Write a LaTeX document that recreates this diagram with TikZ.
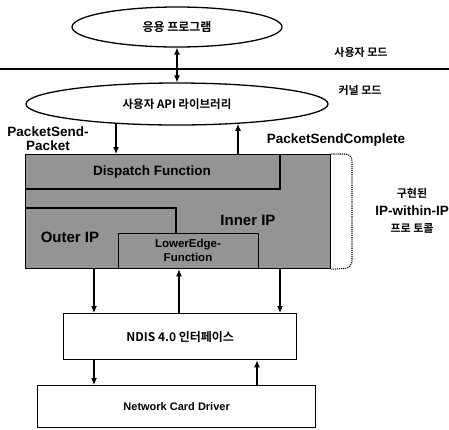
\documentclass[tikz,border=0pt]{standalone}
\usepackage{fontspec}
\setmainfont{Liberation Sans}
\newfontfamily\kr{Noto Sans CJK KR Bold}
\usetikzlibrary{shapes.geometric,arrows.meta}
\tikzset{
  ell/.style={draw, ellipse, line width=1.3pt, inner sep=0pt},
  boxn/.style={draw, rectangle, line width=1.3pt, inner sep=0pt},
  arr/.style={line width=1.1pt, -{Latex[length=7pt,width=6pt]}},
  darr/.style={line width=1.1pt, {Latex[length=7pt,width=6pt]}-{Latex[length=7pt,width=6pt]}},
  lbl/.style={font=\bfseries\fontsize{13.5}{14}\selectfont, inner sep=0pt, align=center},
  krl/.style={font=\kr\fontsize{11}{13}\selectfont, inner sep=0pt, align=center},
}
\begin{document}
\begin{tikzpicture}[x=1pt,y=-1pt]
\useasboundingbox (0,0) rectangle (449,429);
% top ellipses
\node[ell, minimum width=210pt, minimum height=40pt, krl, font=\kr\fontsize{12}{13}\selectfont] (app) at (177,27) {응용 프로그램};
\node[ell, minimum width=302pt, minimum height=42pt, krl, font=\kr\fontsize{11.5}{13}\selectfont] (api) at (177,104) {사용자 API 라이브러리};
\coordinate (sepL) at (0,69);
\coordinate (sepR) at (449,69);
\draw[line width=1.4pt] (sepL) -- (sepR);
\node[krl] (um) at (361,52) {사용자 모드};
\node[krl] (km) at (360,90) {커널 모드};
\draw[darr] (app) -- (api);
% shaded IP block
\node[boxn, fill=black!42, minimum width=305pt, minimum height=114pt, anchor=north west] (ipbox) at (25,154) {};
\draw[line width=1.1pt] (25,189) -| (280,154);
\draw[line width=1.1pt] (25,208) -| (176,233);
\node[boxn, fill=black!42, minimum width=140pt, minimum height=35pt, anchor=north west] (low) at (118,233) {};
\node[lbl] (disp) at (152,172) {Dispatch Function};
\node[lbl, font=\bfseries\fontsize{15}{16}\selectfont] (inner) at (248,220) {Inner IP};
\node[lbl, font=\bfseries\fontsize{15}{16}\selectfont] (outer) at (70,237) {Outer IP};
\node[lbl, font=\bfseries\fontsize{11.5}{14}\selectfont] (lowt) at (188,250) {LowerEdge-\\Function};
% dotted bracket
\draw[line width=1.1pt, densely dotted, rounded corners=7pt] (ipbox.north east) -- (352,154) -- (352,268) -- (ipbox.south east);
\node[krl] (impl1) at (412,193) {구현된};
\node[lbl] (impl2) at (412,211) {IP-within-IP};
\node[krl] (impl3) at (412,228) {프로 토콜};
% labels and arrows between API and IP block
\node[lbl] (psp) at (48,139) {PacketSend-\\Packet};
\node[lbl] (psc) at (336,140) {PacketSendComplete};
\draw[arr] (api.198) -- (api.198 |- ipbox.north);
\draw[arr] (ipbox.north -| api.342) -- (api.342);
% lower boxes
\node[boxn, minimum width=233pt, minimum height=46pt, anchor=north west, krl, font=\kr\fontsize{12}{13}\selectfont] (ndis) at (63,313) {NDIS 4.0 인터페이스};
\node[boxn, minimum width=278pt, minimum height=42pt, anchor=north west, lbl, font=\bfseries\fontsize{11}{12}\selectfont] (ncd) at (37,385) {Network Card Driver};
\coordinate (a1) at (94,0);
\coordinate (a2) at (179,0);
\coordinate (a3) at (280,0);
\coordinate (a4) at (257,0);
\draw[arr] (ipbox.south -| a1) -- (ndis.north -| a1);
\draw[arr] (ndis.north -| a2) -- (low.south -| a2);
\draw[arr] (ipbox.south -| a3) -- (ndis.north -| a3);
\draw[arr] (ndis.south -| a1) -- (ncd.north -| a1);
\draw[arr] (ncd.north -| a4) -- (ndis.south -| a4);
\end{tikzpicture}
\end{document}
